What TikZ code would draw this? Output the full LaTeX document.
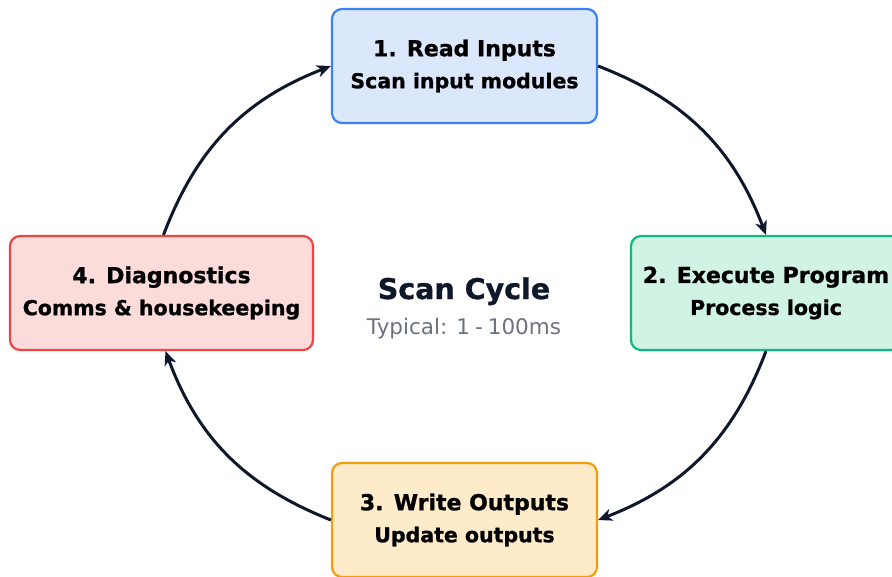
\documentclass[tikz,border=0pt]{standalone}
\usepackage{fontspec}
\setmainfont{DejaVu Sans}[BoldFeatures={FakeBold=1}]
\usetikzlibrary{arrows.meta}

\definecolor{ink}{HTML}{0F172A}
\definecolor{muted}{HTML}{6B7280}
\definecolor{blueFill}{HTML}{DBE8FC}
\definecolor{blueLine}{HTML}{3B82F6}
\definecolor{greenFill}{HTML}{D1F3E4}
\definecolor{greenLine}{HTML}{10B981}
\definecolor{amberFill}{HTML}{FDEBC9}
\definecolor{amberLine}{HTML}{F59E0B}
\definecolor{redFill}{HTML}{FCDBDB}
\definecolor{redLine}{HTML}{EF4444}

\tikzset{
  stage/.style={draw, line width=2.2pt, rounded corners=10pt, inner sep=0pt,
    minimum height=114, align=center, text=black,
    font=\bfseries\fontsize{20.5}{32}\selectfont},
  flow/.style={draw=ink, line width=3pt,
    -{Stealth[length=14pt,width=12pt,inset=4pt]}},
}
\newcommand{\stagetitle}[1]{{\fontsize{22}{32}\selectfont #1}}

\begin{document}
\begin{tikzpicture}[x=1pt,y=-1pt]
\useasboundingbox (0,0) rectangle (892,576);
\clip (0,0) rectangle (892,576);

% the four stages of the cycle
\node[stage, fill=blueFill, draw=blueLine, minimum width=265] (read) at (464.5,66)
  {\stagetitle{1. Read Inputs}\\Scan input modules};
\node[stage, fill=greenFill, draw=greenLine, minimum width=270] (exec) at (766,293)
  {\stagetitle{2. Execute Program}\\Process logic};
\node[stage, fill=amberFill, draw=amberLine, minimum width=265] (write) at (464.5,520)
  {\stagetitle{3. Write Outputs}\\Update outputs};
\node[stage, fill=redFill, draw=redLine, minimum width=303] (diag) at (161.5,293)
  {\stagetitle{4. Diagnostics}\\Comms \& housekeeping};

% centre caption
\node[anchor=base, text=ink, font=\bfseries\fontsize{28.5}{30}\selectfont] (title) at (464,299) {Scan Cycle};
\node[anchor=base, text=muted, font=\fontsize{21.5}{24}\selectfont] (sub) at (464,334) {Typical: 1\kern5pt-\kern5pt100ms};

% clockwise connectors
\draw[flow] (read.east) to[bend left=24] (exec.north);
\draw[flow] (exec.south) to[bend left=24] (write.east);
\draw[flow] (write.west) to[bend left=24] ([xshift=4pt]diag.south);
\draw[flow] ([xshift=2pt]diag.north) to[bend left=24] (read.west);
\end{tikzpicture}
\end{document}
